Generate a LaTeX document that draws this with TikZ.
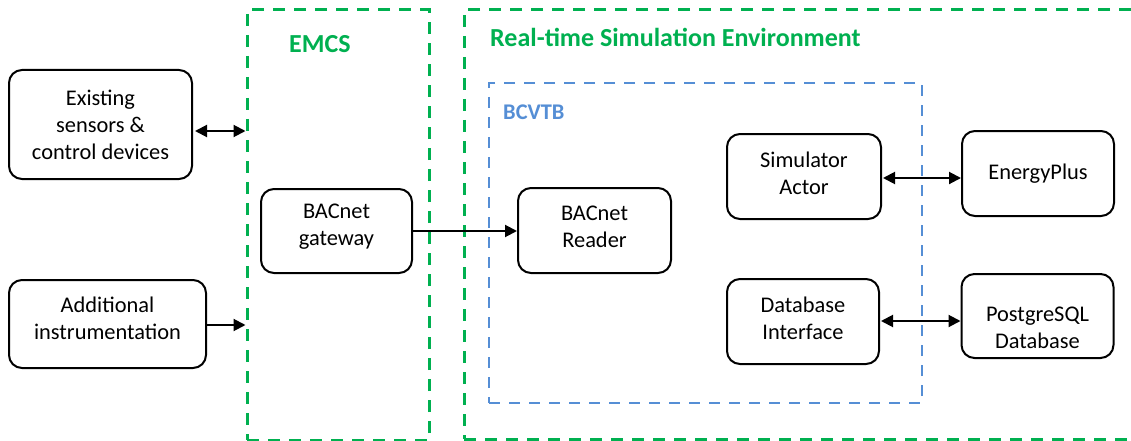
\documentclass[tikz,border=0pt]{standalone}
\usepackage{fontspec}
\setmainfont{Carlito}
\usetikzlibrary{arrows.meta}
\definecolor{framegreen}{RGB}{0,176,80}
\definecolor{frameblue}{RGB}{85,142,213}

\begin{document}
\begin{tikzpicture}[x=1pt,y=-1pt,
  box/.style={draw=black, line width=2pt, rounded corners=13pt, inner sep=0pt},
  boxtext/.style={font=\fontsize{22.4}{27}\selectfont, align=center, inner sep=0pt},
  frame/.style={draw, line width=3pt, dash pattern=on 12pt off 9pt, inner sep=0pt},
  title/.style={font=\fontsize{26}{30}\selectfont\bfseries, anchor=base west, inner sep=0pt},
  link/.style={line width=2pt, -{Triangle[length=12pt,width=12pt]}},
  duplex/.style={line width=2pt, {Triangle[length=12pt,width=12pt]}-{Triangle[length=12pt,width=12pt]}},
]
\useasboundingbox (0,0) rectangle (1131,441);
\clip (0,0) rectangle (1131,441);

% group frames
\node[frame, draw=framegreen, minimum width=182pt, minimum height=430pt] (emcs) at (338,225) {};
\node[frame, draw=framegreen, minimum width=686pt, minimum height=429pt] (rtse) at (807,224.5) {};
\node[frame, draw=frameblue, line width=2.7pt, dash pattern=on 11pt off 9pt,
      minimum width=433pt, minimum height=320pt] (bcvtb) at (705.5,243) {};

% frame titles
\node[title, text=framegreen] (emcslabel) at (289,53) {EMCS};
\node[title, text=framegreen] (rtselabel) at (490,47) {Real-time Simulation Environment};
\node[title, text=frameblue, font=\fontsize{22.4}{27}\selectfont\bfseries] (bcvtblabel) at (503,119) {BCVTB};

% components
\node[box, minimum width=183pt, minimum height=109pt] (exist) at (100.5,124.5) {};
\node[box, minimum width=197pt, minimum height=88pt] (instr) at (107.5,324) {};
\node[box, minimum width=151pt, minimum height=84pt] (gateway) at (336.5,231) {};
\node[box, minimum width=153pt, minimum height=85pt] (reader) at (594.5,230.5) {};
\node[box, minimum width=154pt, minimum height=85pt] (actor) at (804,176.5) {};
\node[box, minimum width=152pt, minimum height=85pt] (dbi) at (803,321.5) {};
\node[box, minimum width=152pt, minimum height=85pt] (eplus) at (1038,173.5) {};
\node[box, minimum width=152pt, minimum height=84pt] (pgsql) at (1037.5,316) {};

% component texts
\node[boxtext] (existtext) at (exist.center) {Existing\\sensors \&\\control devices};
\node[boxtext] (instrtext) at ([yshift=6pt]instr.center) {Additional\\instrumentation};
\node[boxtext] (gatewaytext) at ([yshift=4pt]gateway.center) {BACnet\\gateway};
\node[boxtext] (readertext) at ([yshift=4pt]reader.center) {BACnet\\Reader};
\node[boxtext] (actortext) at ([yshift=3pt]actor.center) {Simulator\\Actor};
\node[boxtext] (dbitext) at ([yshift=3pt]dbi.center) {Database\\Interface};
\node[boxtext] (eplustext) at (eplus.center) {EnergyPlus};
\node[boxtext] (pgsqltext) at ([yshift=-12pt]pgsql.center) {PostgreSQL\\Database};

% connectors
\coordinate (existport) at (exist.east |- 0,131);
\coordinate (instrport) at (instr.east |- 0,325);
\draw[duplex] ([xshift=2pt]existport) -- (existport -| emcs.west);
\draw[link] (instrport) -- (instrport -| emcs.west);
\draw[link] (gateway.east |- 0,231) -- (reader.west |- 0,231);
\draw[duplex] ([xshift=1pt]actor.east |- 0,178) -- (eplus.west |- 0,178);
\draw[duplex] ([xshift=1pt]dbi.east |- 0,321) -- (pgsql.west |- 0,321);
\end{tikzpicture}
\end{document}
